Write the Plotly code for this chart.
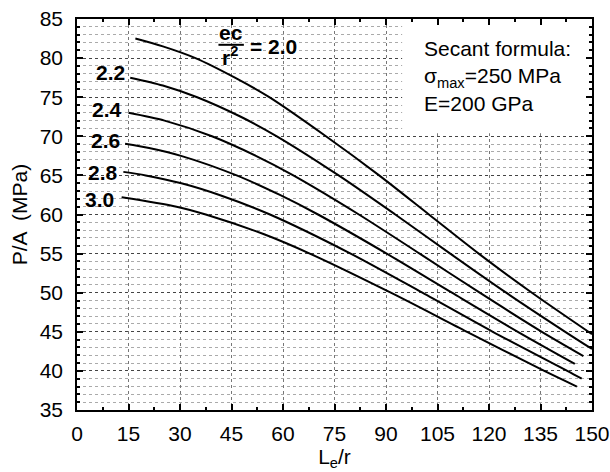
import plotly.graph_objects as go

# ---- data ----
ec_values = ["2.0", "2.2", "2.4", "2.6", "2.8", "3.0"]

x_20 = [17, 25, 34.5, 46, 56, 72.5, 88, 102.5, 117, 132.5, 150]
y_20 = [82.5, 81.5, 80, 77.5, 75, 70, 65, 60, 55, 50, 44.7]

x_22 = [15.5, 25, 35, 47.7, 58.2, 76.2, 92.7, 108.7, 125, 142.2, 150]
y_22 = [77.5, 76.5, 75, 72.5, 70, 65, 60, 55, 50, 45, 42.8]

x_24 = [15, 25.5, 39.3, 52.1, 63, 82.1, 99.8, 117.3, 135.4, 147.5]
y_24 = [73, 72, 70, 67.5, 65, 60, 55, 50, 45, 41.9]

x_26 = [14, 21, 30.3, 46.5, 59.1, 70.2, 90.2, 109.2, 128.4, 145]
y_26 = [69.05, 68.5, 67.5, 65, 62.5, 60, 55, 50, 45, 40.9]

x_28 = [13.5, 20, 30.4, 41.5, 56.2, 79.7, 100.6, 121.1, 142.8, 147]
y_28 = [65.45, 65, 64, 62.5, 60, 55, 50, 45, 40, 39]

x_30 = [13, 29, 37.5, 54.3, 67.8, 91.4, 113.6, 136.1, 145.6]
y_30 = [62.2, 61, 60, 57.5, 55, 50, 45, 40, 38]

x_ticks = [0, 15, 30, 45, 60, 75, 90, 105, 120, 135, 150]
y_ticks = [35, 40, 45, 50, 55, 60, 65, 70, 75, 80, 85]

series_x = [x_20, x_22, x_24, x_26, x_28, x_30]
series_y = [y_20, y_22, y_24, y_26, y_28, y_30]

# label positions (data coords) for curve labels 2.2 ... 3.0
label_x = [14.6, 13.8, 13.0, 12.6, 11.4]
label_y = [78.2, 73.4, 69.5, 65.4, 61.9]

FONT = "Liberation Sans, Arial, sans-serif"

fig = go.Figure()
for name, xs, ys in zip(ec_values, series_x, series_y):
    fig.add_trace(go.Scatter(
        x=xs, y=ys, mode="lines", name=name,
        line=dict(color="black", width=2, shape="spline", smoothing=0.8),
        showlegend=False, hoverinfo="skip"))

annotations = []
for txt, lx, ly in zip(ec_values[1:], label_x, label_y):
    annotations.append(dict(x=lx, y=ly, xref="x", yref="y", text="<b>%s</b>" % txt,
                            showarrow=False, xanchor="right", yanchor="middle",
                            font=dict(size=21, family=FONT, color="black")))

# fraction label ec / r^2 = 2.0
annotations.append(dict(x=44.8, y=83.3, xref="x", yref="y", text="<b>ec</b>",
                        showarrow=False, xanchor="center", yanchor="middle",
                        font=dict(size=21, family=FONT, color="black")))
annotations.append(dict(x=44.6, y=80.3, xref="x", yref="y", text="<b>r<sup>2</sup></b>",
                        showarrow=False, xanchor="center", yanchor="middle",
                        font=dict(size=21, family=FONT, color="black")))
annotations.append(dict(x=49.8, y=81.5, xref="x", yref="y", text="<b>= 2.0</b>",
                        showarrow=False, xanchor="left", yanchor="middle",
                        font=dict(size=21, family=FONT, color="black")))

# note box
annotations.append(dict(x=100.5, y=83.0, xref="x", yref="y",
                        text="Secant formula:<br>σ<sub>max</sub>=250 MPa<br>E=200 GPa",
                        showarrow=False, xanchor="left", yanchor="top", align="left",
                        font=dict(size=21, family=FONT, color="black")))

shapes = [
    dict(type="rect", xref="x", yref="y", x0=94.7, x1=150, y0=70.4, y1=85,
         fillcolor="white", line=dict(width=0), layer="between"),
    dict(type="line", xref="x", yref="y", x0=41.2, x1=48.6, y0=81.7, y1=81.7,
         line=dict(color="black", width=2), layer="above"),
]

fig.update_layout(
    width=610, height=472,
    margin=dict(l=77, r=18, t=19, b=62, autoexpand=False),
    paper_bgcolor="white", plot_bgcolor="white",
    font=dict(family=FONT, size=21, color="black"),
    annotations=annotations, shapes=shapes,
)

fig.update_xaxes(
    range=[0, 150], tickvals=x_ticks, ticktext=[str(v) for v in x_ticks],
    ticks="inside", ticklen=6, tickwidth=1.5, tickcolor="black",
    showline=True, linecolor="black", linewidth=1.5, mirror="ticks",
    showgrid=True, gridcolor="#777", gridwidth=1, griddash="dot",
    zeroline=False, ticklabelstandoff=4, automargin=False,
    minor=dict(dtick=7.5, tick0=0, ticks="inside", ticklen=3, tickcolor="black", showgrid=False),
    title=dict(text="L<sub>e</sub>/r", font=dict(size=21, family=FONT), standoff=4),
)
fig.update_yaxes(
    range=[35, 85], tickvals=y_ticks, ticktext=[str(v) for v in y_ticks],
    ticks="inside", ticklen=6, tickwidth=1.5, tickcolor="black",
    showline=True, linecolor="black", linewidth=1.5, mirror="ticks",
    showgrid=True, gridcolor="#444", gridwidth=1, griddash="dot",
    zeroline=False, ticklabelstandoff=8, automargin=False,
    minor=dict(dtick=1, tick0=35, ticks="inside", ticklen=3, tickcolor="black",
               showgrid=True, gridcolor="#aaa", gridwidth=1, griddash="dot"),
    title=dict(text="P/A  (MPa)", font=dict(size=21, family=FONT), standoff=6),
)

fig.write_html("out.html", config={"displayModeBar": False},
               post_script="document.body.style.margin='0';document.body.style.overflow='hidden';")
